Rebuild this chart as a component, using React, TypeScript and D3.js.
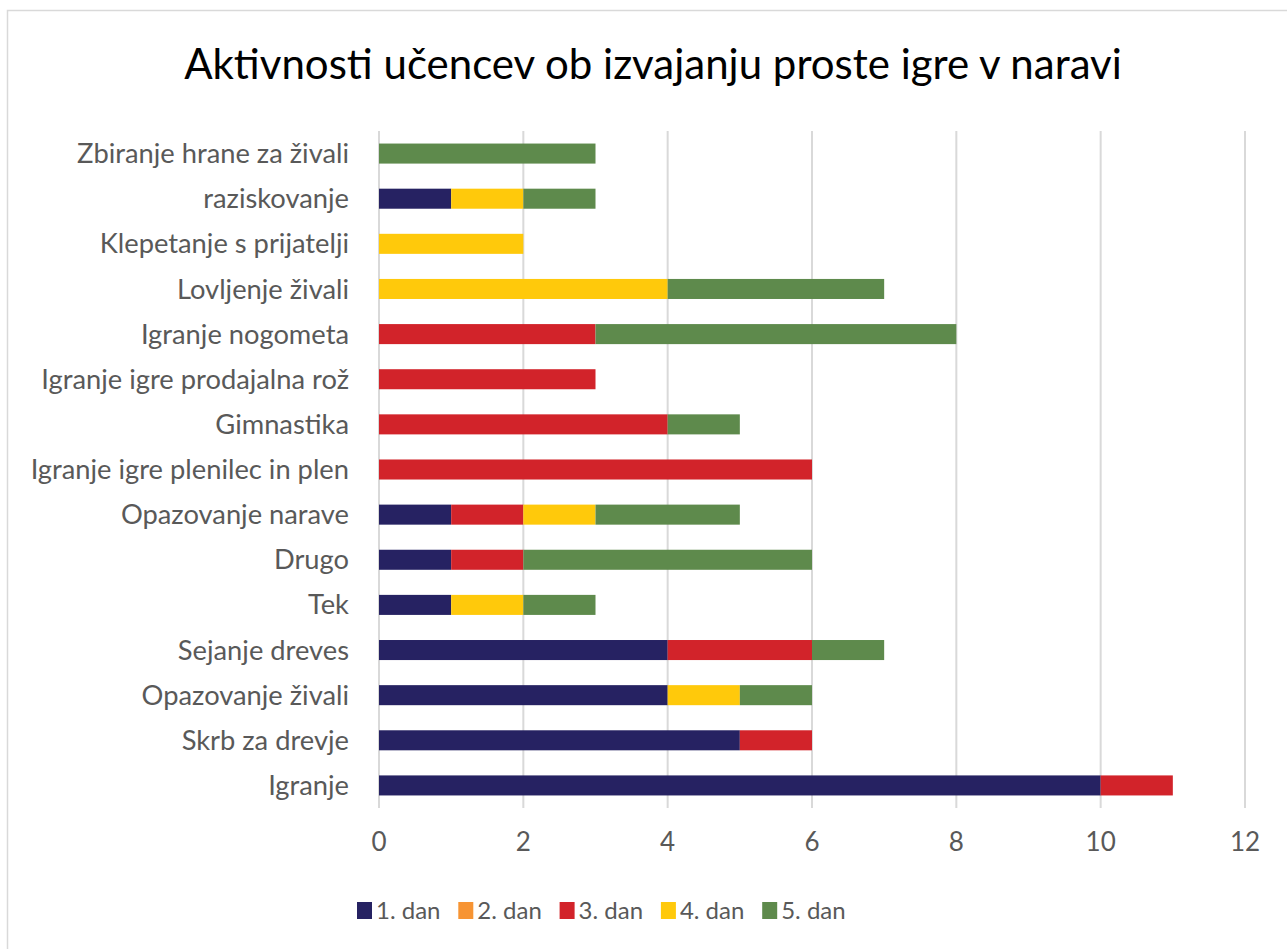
import * as d3 from 'd3';
import React from 'react';

const categories = [
  'Igranje',
  'Skrb za drevje',
  'Opazovanje živali',
  'Sejanje dreves',
  'Tek',
  'Drugo',
  'Opazovanje narave',
  'Igranje igre plenilec in plen',
  'Gimnastika',
  'Igranje igre prodajalna rož',
  'Igranje nogometa',
  'Lovljenje živali',
  'Klepetanje s prijatelji',
  'raziskovanje',
  'Zbiranje hrane za živali',
];

const seriesNames = ['1. dan', '2. dan', '3. dan', '4. dan', '5. dan'];
const seriesColors = ['#262262', '#F79433', '#D2232A', '#FFC90B', '#5E8A4C'];

// values per category, same order as categories
const dan1 = [10, 5, 4, 4, 1, 1, 1, 0, 0, 0, 0, 0, 0, 1, 0];
const dan2 = [0, 0, 0, 0, 0, 0, 0, 0, 0, 0, 0, 0, 0, 0, 0];
const dan3 = [1, 1, 0, 2, 0, 1, 1, 6, 4, 3, 3, 0, 0, 0, 0];
const dan4 = [0, 0, 1, 0, 1, 0, 1, 0, 0, 0, 0, 4, 2, 1, 0];
const dan5 = [0, 0, 1, 1, 1, 4, 2, 0, 1, 0, 5, 3, 0, 1, 3];

const xTicks = [0, 2, 4, 6, 8, 10, 12];

const W = 1287;
const H = 949;
const FONT = 'Lato, "Open Sans", sans-serif';

export default function App() {
  const ref = React.useRef<SVGSVGElement>(null);

  React.useEffect(() => {
    if (!ref.current) return;
    const svg = d3.select(ref.current);
    svg.selectAll('*').remove();

    const margin = { top: 131, right: 42, bottom: 141, left: 379 };
    const innerW = W - margin.left - margin.right;
    const innerH = H - margin.top - margin.bottom;

    svg.append('rect').attr('width', W).attr('height', H).attr('fill', '#fff');
    // chart frame (runs past right/bottom edge)
    svg.append('rect')
      .attr('x', 7.5).attr('y', 10.5)
      .attr('width', W + 20).attr('height', H + 20)
      .attr('fill', 'none').attr('stroke', '#d9d9d9').attr('stroke-width', 1.5);

    svg.append('text')
      .attr('x', 653).attr('y', 79)
      .attr('text-anchor', 'middle')
      .attr('font-family', FONT)
      .attr('font-size', 42)
      .attr('fill', '#000')
      .text('Aktivnosti učencev ob izvajanju proste igre v naravi');

    const g = svg.append('g').attr('transform', `translate(${margin.left},${margin.top})`);

    const x = d3.scaleLinear().domain([0, 12]).range([0, innerW]);
    const y = d3.scaleBand<string>()
      .domain([...categories].reverse())
      .range([0, innerH])
      .paddingInner(0.556)
      .paddingOuter(0.278);

    // gridlines
    g.selectAll('line.grid')
      .data(xTicks)
      .enter()
      .append('line')
      .attr('x1', (d) => x(d)).attr('x2', (d) => x(d))
      .attr('y1', 0).attr('y2', innerH)
      .attr('stroke', '#d9d9d9').attr('stroke-width', 2);

    const table = categories.map((c, i) => ({
      cat: c,
      '1. dan': dan1[i],
      '2. dan': dan2[i],
      '3. dan': dan3[i],
      '4. dan': dan4[i],
      '5. dan': dan5[i],
    }));
    const stacked = d3.stack<any>().keys(seriesNames)(table);

    stacked.forEach((layer, li) => {
      g.append('g')
        .selectAll('rect')
        .data(layer.filter((d) => d[1] - d[0] > 0))
        .enter()
        .append('rect')
        .attr('x', (d) => x(d[0]))
        .attr('width', (d) => x(d[1]) - x(d[0]))
        .attr('y', (d) => y(d.data.cat)!)
        .attr('height', y.bandwidth())
        .attr('fill', seriesColors[li]);
    });

    // x tick labels
    g.selectAll('text.xt')
      .data(xTicks)
      .enter()
      .append('text')
      .attr('x', (d) => x(d))
      .attr('y', innerH + 43)
      .attr('text-anchor', 'middle')
      .attr('font-family', FONT)
      .attr('font-size', 26)
      .attr('fill', '#595959')
      .text((d) => d);

    // category labels
    g.selectAll('text.cat')
      .data(categories)
      .enter()
      .append('text')
      .attr('x', -30)
      .attr('y', (d) => y(d)! + y.bandwidth() / 2)
      .attr('dy', '0.35em')
      .attr('text-anchor', 'end')
      .attr('font-family', FONT)
      .attr('font-size', 27.3)
      .attr('fill', '#595959')
      .text((d) => d);

    // legend
    const lg = svg.append('g');
    seriesNames.forEach((name, i) => {
      const lx = 357 + i * 101.3;
      lg.append('rect')
        .attr('x', lx).attr('y', 902)
        .attr('width', 15).attr('height', 17)
        .attr('fill', seriesColors[i]);
      lg.append('text')
        .attr('x', lx + 19).attr('y', 911)
        .attr('dy', '0.35em')
        .attr('font-family', FONT)
        .attr('font-size', 24)
        .attr('fill', '#595959')
        .text(name);
    });
  }, []);

  return (
    <svg ref={ref} width={W} height={H} style={{ position: 'absolute', left: 0, top: 0 }} />
  );
}
